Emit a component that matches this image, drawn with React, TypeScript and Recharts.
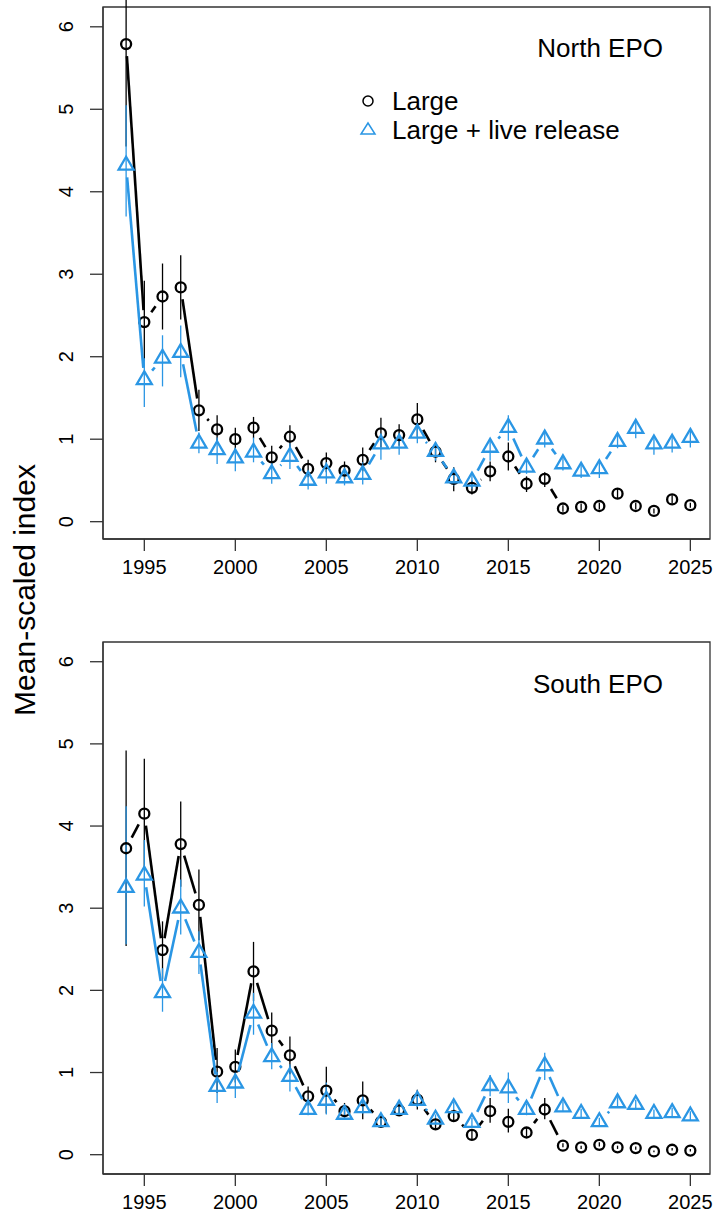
import React from 'react';
import { LineChart, Line, XAxis, YAxis, ErrorBar, ReferenceArea } from 'recharts';

const years = [
  1994, 1995, 1996, 1997, 1998, 1999, 2000, 2001, 2002, 2003, 2004, 2005, 2006, 2007, 2008, 2009,
  2010, 2011, 2012, 2013, 2014, 2015, 2016, 2017, 2018, 2019, 2020, 2021, 2022, 2023, 2024, 2025,
];
const xTicks = [1995, 2000, 2005, 2010, 2015, 2020, 2025];
const yTicks = [0, 1, 2, 3, 4, 5, 6];

// North EPO
const northLarge = [5.79, 2.42, 2.73, 2.84, 1.35, 1.12, 1.0, 1.14, 0.78, 1.03, 0.64, 0.71, 0.62, 0.75, 1.07, 1.05,
  1.24, 0.85, 0.52, 0.41, 0.61, 0.79, 0.46, 0.52, 0.16, 0.18, 0.19, 0.34, 0.19, 0.13, 0.27, 0.2];
const northLargeLo = [4.55, 1.95, 2.33, 2.45, 1.1, 0.97, 0.86, 1.01, 0.65, 0.9, 0.54, 0.6, 0.52, 0.61, 0.9, 0.92,
  1.03, 0.72, 0.37, 0.33, 0.49, 0.62, 0.36, 0.42, 0.12, 0.14, 0.15, 0.28, 0.15, 0.1, 0.22, 0.17];
const northLargeHi = [7.03, 2.92, 3.13, 3.23, 1.6, 1.29, 1.14, 1.27, 0.92, 1.17, 0.75, 0.84, 0.73, 0.9, 1.26, 1.18,
  1.44, 0.96, 0.66, 0.5, 0.73, 0.96, 0.55, 0.6, 0.2, 0.22, 0.23, 0.4, 0.23, 0.16, 0.32, 0.23];
const northLive = [4.32, 1.72, 1.98, 2.05, 0.95, 0.87, 0.77, 0.84, 0.58, 0.79, 0.5, 0.59, 0.53, 0.57, 0.94, 0.95,
  1.07, 0.85, 0.53, 0.49, 0.9, 1.14, 0.66, 1.0, 0.7, 0.61, 0.64, 0.97, 1.13, 0.94, 0.95, 1.02];
const northLiveLo = [3.7, 1.39, 1.64, 1.75, 0.83, 0.7, 0.61, 0.72, 0.46, 0.64, 0.39, 0.46, 0.44, 0.45, 0.75, 0.81,
  0.95, 0.74, 0.44, 0.4, 0.74, 0.98, 0.58, 0.9, 0.62, 0.53, 0.53, 0.89, 1.01, 0.81, 0.84, 0.9];
const northLiveHi = [5.05, 1.98, 2.26, 2.38, 1.08, 1.02, 0.89, 1.02, 0.72, 0.95, 0.6, 0.72, 0.64, 0.72, 1.07, 1.07,
  1.19, 0.95, 0.62, 0.58, 0.98, 1.29, 0.74, 1.08, 0.78, 0.69, 0.72, 1.07, 1.24, 1.02, 1.03, 1.1];

// South EPO
const southLarge = [3.73, 4.15, 2.49, 3.78, 3.04, 1.01, 1.07, 2.23, 1.51, 1.21, 0.71, 0.78, 0.53, 0.66, 0.4, 0.54,
  0.67, 0.37, 0.47, 0.24, 0.53, 0.4, 0.27, 0.55, 0.11, 0.09, 0.12, 0.09, 0.08, 0.04, 0.06, 0.05];
const southLargeLo = [2.54, 3.48, 2.14, 3.26, 2.61, 0.75, 0.88, 1.87, 1.28, 0.98, 0.6, 0.5, 0.44, 0.43, 0.33, 0.47,
  0.55, 0.31, 0.4, 0.19, 0.39, 0.27, 0.22, 0.43, 0.09, 0.07, 0.1, 0.07, 0.06, 0.03, 0.05, 0.04];
const southLargeHi = [4.92, 4.82, 2.84, 4.3, 3.47, 1.3, 1.28, 2.59, 1.73, 1.44, 0.83, 1.07, 0.63, 0.89, 0.47, 0.62,
  0.79, 0.43, 0.55, 0.29, 0.69, 0.56, 0.33, 0.69, 0.14, 0.11, 0.15, 0.11, 0.1, 0.05, 0.08, 0.07];
const southLive = [3.25, 3.4, 1.97, 3.0, 2.46, 0.83, 0.87, 1.72, 1.19, 0.95, 0.55, 0.66, 0.49, 0.57, 0.4, 0.55,
  0.66, 0.43, 0.57, 0.39, 0.84, 0.81, 0.55, 1.08, 0.58, 0.5, 0.4, 0.63, 0.61, 0.5, 0.51, 0.47];
const southLiveLo = [2.56, 3.02, 1.74, 2.68, 2.2, 0.63, 0.69, 1.46, 1.04, 0.77, 0.48, 0.49, 0.43, 0.5, 0.34, 0.48,
  0.58, 0.37, 0.5, 0.33, 0.71, 0.63, 0.48, 0.91, 0.52, 0.45, 0.35, 0.57, 0.55, 0.45, 0.46, 0.42];
const southLiveHi = [4.24, 3.83, 2.27, 3.35, 2.72, 1.01, 1.0, 1.97, 1.36, 1.1, 0.62, 0.88, 0.56, 0.72, 0.46, 0.62,
  0.75, 0.49, 0.64, 0.45, 0.97, 1.0, 0.62, 1.24, 0.65, 0.56, 0.45, 0.7, 0.67, 0.55, 0.57, 0.53];

const BLUE = '#2a96e4';
const FONT = '"Liberation Sans", Arial, Helvetica, sans-serif';
const GAP = 12; // R type="b" gap round each point

function buildRows(large: number[], lo: number[], hi: number[], live: number[], liveLo: number[], liveHi: number[]) {
  return years.map((year, i) => ({
    year,
    large: large[i],
    largeErr: [large[i] - lo[i], hi[i] - large[i]],
    live: live[i],
    liveErr: [live[i] - liveLo[i], liveHi[i] - live[i]],
  }));
}

const northRows = buildRows(northLarge, northLargeLo, northLargeHi, northLive, northLiveLo, northLiveHi);
const southRows = buildRows(southLarge, southLargeLo, southLargeHi, southLive, southLiveLo, southLiveHi);

// dot draws the marker and the gapped segment to the next point
function makeDot(kind: 'circle' | 'tri', color: string) {
  return (props: any) => {
    const { cx, cy, index, points } = props;
    const key = `${kind}-${index}`;
    if (cx == null || cy == null) return <g key={key} />;
    const next = points && points[index + 1];
    let seg = null;
    if (next && next.x != null && next.y != null) {
      const dx = next.x - cx;
      const dy = next.y - cy;
      const d = Math.hypot(dx, dy);
      if (d > 2 * GAP) {
        const ux = dx / d;
        const uy = dy / d;
        seg = (
          <line x1={cx + ux * GAP} y1={cy + uy * GAP} x2={next.x - ux * GAP} y2={next.y - uy * GAP}
            stroke={color} strokeWidth={2.6} />
        );
      }
    }
    const mark = kind === 'circle'
      ? <circle cx={cx} cy={cy} r={5} fill="none" stroke={color} strokeWidth={2.3} />
      : <polygon points={`${cx},${cy - 8.6} ${cx + 7.5},${cy + 4.3} ${cx - 7.5},${cy + 4.3}`}
          fill="none" stroke={color} strokeWidth={2.3} />;
    return <g key={key}>{seg}{mark}</g>;
  };
}

const YTick = (props: any) => {
  const { x, y, payload } = props;
  return (
    <text x={x} y={y} transform={`rotate(-90 ${x} ${y})`} textAnchor="middle" fontSize={20}
      fontFamily={FONT} fill="#000">{payload.value}</text>
  );
};

const XTick = (props: any) => {
  const { x, y, payload } = props;
  return (
    <text x={x} y={y} dy="0.75em" textAnchor="middle" fontSize={20} fontFamily={FONT} fill="#000">
      {payload.value}
    </text>
  );
};

const X_DOMAIN: [number, number] = [1992.73, 2026.08];

function Panel({ rows, yDomain, top, xAxisH }: { rows: any[]; yDomain: [number, number]; top: number; xAxisH: number }) {
  return (
    <LineChart width={716} height={613} data={rows} margin={{ top, right: 6, bottom: 0, left: 0 }}>
      <XAxis type="number" dataKey="year" domain={X_DOMAIN} allowDataOverflow ticks={xTicks}
        tickSize={12} tickMargin={8} height={xAxisH} tick={<XTick />}
        axisLine={{ stroke: '#333', strokeWidth: 1.3 }} tickLine={{ stroke: '#333', strokeWidth: 1.3 }} />
      <YAxis type="number" domain={yDomain} allowDataOverflow ticks={yTicks} width={103}
        tickSize={13} tickMargin={17} tick={<YTick />}
        axisLine={{ stroke: '#333', strokeWidth: 1.3 }} tickLine={{ stroke: '#333', strokeWidth: 1.3 }} />
      <ReferenceArea x1={X_DOMAIN[0]} x2={X_DOMAIN[1]} y1={yDomain[0]} y2={yDomain[1]}
        fill="none" stroke="#333" strokeWidth={1.3} fillOpacity={0} />
      <Line dataKey="large" stroke="none" isAnimationActive={false} dot={makeDot('circle', '#000')} activeDot={false}>
        <ErrorBar dataKey="largeErr" width={0} stroke="#000" strokeWidth={1.3} direction="y" />
      </Line>
      <Line dataKey="live" stroke="none" isAnimationActive={false} dot={makeDot('tri', BLUE)} activeDot={false}>
        <ErrorBar dataKey="liveErr" width={0} stroke={BLUE} strokeWidth={1.3} direction="y" />
      </Line>
    </LineChart>
  );
}

export default function App() {
  return (
    <div style={{ position: 'relative', width: 716, height: 1226, background: '#fff', fontFamily: FONT }}>
      <style>{'body{margin:0}'}</style>
      <div style={{ position: 'absolute', left: 0, top: 0 }}>
        <Panel rows={northRows} yDomain={[-0.21, 6.24]} top={7} xAxisH={74} />
      </div>
      <div style={{ position: 'absolute', left: 0, top: 613 }}>
        <Panel rows={southRows} yDomain={[-0.235, 6.24]} top={29} xAxisH={52} />
      </div>
      <svg width={716} height={1226} style={{ position: 'absolute', left: 0, top: 0, pointerEvents: 'none' }}
        fontFamily={FONT}>
        <text x={35} y={590} transform="rotate(-90 35 590)" textAnchor="middle" fontSize={30} fill="#000">
          Mean-scaled index
        </text>
        <text x={663} y={57} textAnchor="end" fontSize={26} fill="#000">North EPO</text>
        <text x={663} y={693} textAnchor="end" fontSize={26} fill="#000">South EPO</text>
        <circle cx={368} cy={101} r={5} fill="none" stroke="#000" strokeWidth={1.5} />
        <text x={392} y={110} fontSize={26} fill="#000">Large</text>
        <polygon points="368,123 375,134 361,134" fill="none" stroke={BLUE} strokeWidth={1.5} />
        <text x={392} y={139} fontSize={26} fill="#000">Large + live release</text>
      </svg>
    </div>
  );
}
